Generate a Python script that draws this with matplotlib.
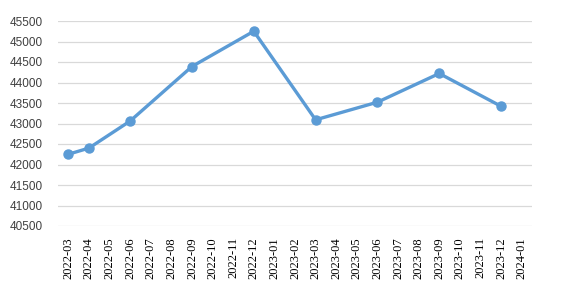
import matplotlib.pyplot as plt
import numpy as np

# monthly categories on the x axis
months = ['2022-03', '2022-04', '2022-05', '2022-06', '2022-07', '2022-08',
          '2022-09', '2022-10', '2022-11', '2022-12', '2023-01', '2023-02',
          '2023-03', '2023-04', '2023-05', '2023-06', '2023-07', '2023-08',
          '2023-09', '2023-10', '2023-11', '2023-12', '2024-01']

# observed points (month, value)
obs_months = ['2022-03', '2022-04', '2022-06', '2022-09', '2022-12',
              '2023-03', '2023-06', '2023-09', '2023-12']
obs_values = [42250, 42400, 43060, 44390, 45250, 43090, 43520, 44220, 43420]

y_ticks = list(range(40500, 46000, 500))

fig = plt.figure(figsize=(5.72, 3.01), dpi=100)
ax = fig.add_axes([58 / 572, 1 - 226 / 301, (532 - 58) / 572, (226 - 21) / 301])

x = [months.index(m) for m in obs_months]
ax.plot(x, obs_values, color='#5B9BD5', linewidth=2.4, marker='o',
        markersize=6.5, zorder=3)

ax.set_xlim(-0.5, len(months) - 0.5)
ax.set_ylim(40500, 45500)
ax.set_yticks(y_ticks)
ax.set_yticklabels([str(v) for v in y_ticks], fontsize=8.5,
                   family='Liberation Sans', color='#404040')
ax.set_xticks(range(len(months)))
ax.set_xticklabels(months, rotation=90, fontsize=9,
                   family='Liberation Serif', color='#000000')
ax.tick_params(length=0)
ax.tick_params(axis='x', pad=8)
ax.tick_params(axis='y', pad=11)

ax.grid(axis='y', color='#D9D9D9', linewidth=0.9)
ax.set_axisbelow(True)
for s in ax.spines.values():
    s.set_visible(False)

plt.savefig('out.png', dpi=100)
